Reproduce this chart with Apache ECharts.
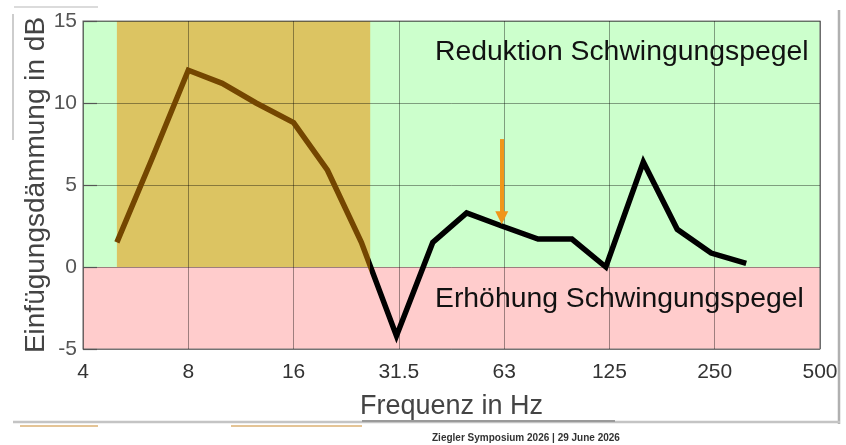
<!DOCTYPE html>
<html>
<head>
<meta charset="utf-8">
<script src="https://cdn.jsdelivr.net/npm/echarts@6/dist/echarts.min.js"></script>
<style>
html,body{margin:0;padding:0;background:#fff;}
#chart{width:846px;height:445px;}
</style>
</head>
<body>
<div id="chart"></div>
<script>
// ---- data ----
const freqs = [5, 6.3, 8, 10, 12.5, 16, 20, 25, 31.5, 40, 50, 63, 80, 100, 125, 160, 200, 250, 315];
const insertionLoss = [1.5, 6.6, 12.0, 11.2, 10.0, 8.8, 5.9, 1.5, -4.2, 1.5, 3.3, 2.5, 1.7, 1.7, 0.0, 6.4, 2.3, 0.85, 0.22];
const xTickValues = [4, 8, 16, 32, 64, 128, 256, 512];
const xTickLabels = ['4', '8', '16', '31.5', '63', '125', '250', '500'];
const yTicks = [-5, 0, 5, 10, 15];
const goldBand = [5, 26.5];
const arrowFreq = 63;
const arrowFrom = 7.8;
const arrowTo = 3.0;
const zoneNames = ['Reduktion', 'Erhöhung', 'Band'];
// zones: [xFrom, xTo, yFrom, yTo]
const zoneBounds = [
  [4, 512, 0, 15],
  [4, 512, -5, 0],
  [goldBand[0], goldBand[1], 0, 15]
];
const zoneColors = ['#CCFFCC', '#FFCCCC', '#DCC462'];

const chart = echarts.init(document.getElementById('chart'), null, {renderer: 'canvas'});

const option = {
  animation: false,
  backgroundColor: '#ffffff',
  grid: {
    left: 83, right: 26, top: 21, bottom: 96,
    show: true, borderColor: '#7a7a7a', borderWidth: 1.2,
    backgroundColor: 'transparent'
  },
  xAxis: {
    type: 'log',
    logBase: 2,
    min: xTickValues[0],
    max: xTickValues[xTickValues.length - 1],
    name: 'Frequenz in Hz',
    nameLocation: 'middle',
    nameGap: 44,
    nameMoveOverlap: false,
    nameTextStyle: {fontFamily: 'Liberation Sans', fontSize: 27, color: '#444'},
    axisLine: {show: false},
    axisTick: {show: false},
    axisLabel: {
      fontFamily: 'Liberation Sans', fontSize: 21, color: '#333', margin: 13,
      formatter: function (v) {
        for (let i = 0; i < xTickValues.length; i++) {
          if (Math.abs(v - xTickValues[i]) < 1e-6 * xTickValues[i]) return xTickLabels[i];
        }
        return '';
      }
    },
    splitLine: {show: true, lineStyle: {color: 'rgba(0,0,0,0.38)', width: 1}}
  },
  yAxis: {
    type: 'value',
    min: yTicks[0],
    max: yTicks[yTicks.length - 1],
    interval: 5,
    name: 'Einfügungsdämmung in dB',
    nameLocation: 'middle',
    nameRotate: 90,
    nameGap: 33,
    nameMoveOverlap: false,
    nameTextStyle: {fontFamily: 'Liberation Sans', fontSize: 28, color: '#444'},
    axisLine: {show: false},
    axisTick: {show: true, inside: true, length: 14, lineStyle: {color: '#555', width: 1.2}},
    axisLabel: {fontFamily: 'Liberation Sans', fontSize: 21, color: '#555', margin: 6},
    splitLine: {show: true, lineStyle: {color: 'rgba(0,0,0,0.38)', width: 1}}
  },
  visualMap: {
    type: 'piecewise',
    show: false,
    dimension: 0,
    seriesIndex: 1,
    pieces: [
      {gte: xTickValues[0], lt: goldBand[1], color: '#744600'},
      {gte: goldBand[1], lte: xTickValues[xTickValues.length - 1], color: '#000000'}
    ]
  },
  series: [
    {
      type: 'custom',
      z: -1,
      silent: true,
      encode: {x: [0, 1], y: [2, 3]},
      data: zoneBounds.map((b, i) => ({name: zoneNames[i], value: b})),
      renderItem: function (params, api) {
        const p0 = api.coord([api.value(0), api.value(3)]);
        const p1 = api.coord([api.value(1), api.value(2)]);
        return {
          type: 'rect',
          shape: {x: p0[0], y: p0[1], width: p1[0] - p0[0], height: p1[1] - p0[1]},
          style: {fill: zoneColors[params.dataIndex]}
        };
      }
    },
    {
      type: 'line',
      z: 3,
      data: freqs.map((f, i) => [f, insertionLoss[i]]),
      showSymbol: false,
      symbol: 'none',
      lineStyle: {width: 5.5, join: 'miter'},
      markLine: {
        silent: true,
        symbol: ['none', 'triangle'],
        symbolSize: [13, 13],
        lineStyle: {color: '#F0961A', width: 4, type: 'solid'},
        label: {show: false},
        data: [[{coord: [arrowFreq, arrowFrom]}, {coord: [arrowFreq, arrowTo]}]]
      }
    }
  ],
  graphic: [
    {type: 'text', left: 435, top: 39, z: 10,
     scaleX: 1.05,
     style: {text: 'Reduktion Schwingungspegel', font: '27px "Liberation Sans"', fill: '#111'}},
    {type: 'text', left: 435, top: 286, z: 10,
     scaleX: 1.05,
     style: {text: 'Erhöhung Schwingungspegel', font: '27px "Liberation Sans"', fill: '#111'}},
    {type: 'text', left: 432, top: 433, z: 10,
     style: {text: 'Ziegler Symposium 2026 | 29 June 2026', font: 'bold 10px "Liberation Sans"', fill: '#333'}},
    {type: 'line', shape: {x1: 14, y1: 7, x2: 98, y2: 7}, style: {stroke: '#cfcfcf', lineWidth: 1.5}},
    {type: 'line', shape: {x1: 13, y1: 14, x2: 13, y2: 140}, style: {stroke: '#bdbdbd', lineWidth: 1.5}},
    {type: 'line', shape: {x1: 839, y1: 10, x2: 839, y2: 424}, style: {stroke: '#b0b0b0', lineWidth: 2.5}},
    {type: 'line', shape: {x1: 13, y1: 422, x2: 840, y2: 422}, style: {stroke: '#c4c4c4', lineWidth: 2.5}},
    {type: 'line', shape: {x1: 20, y1: 426, x2: 98, y2: 426}, style: {stroke: '#c98a2e', lineWidth: 1.2}},
    {type: 'line', shape: {x1: 231, y1: 426, x2: 362, y2: 426}, style: {stroke: '#c98a2e', lineWidth: 1.2}},
    {type: 'line', shape: {x1: 362, y1: 421, x2: 615, y2: 421}, style: {stroke: '#9a9a9a', lineWidth: 2}}
  ]
};

chart.setOption(option);
</script>
</body>
</html>
